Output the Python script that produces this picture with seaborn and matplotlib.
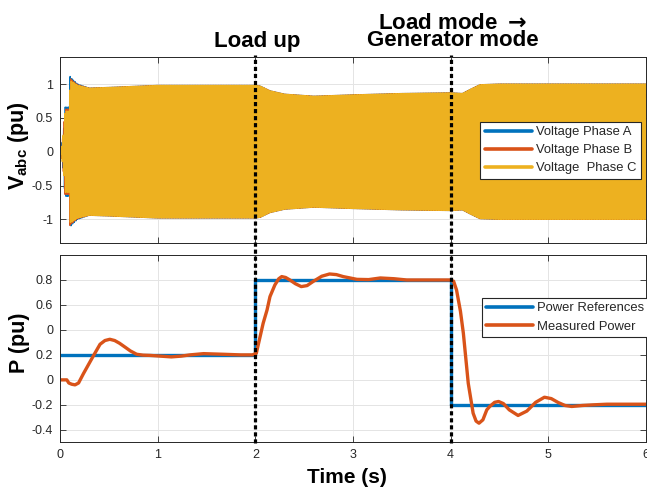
import numpy as np
import pandas as pd
import seaborn as sns
import matplotlib
matplotlib.use("Agg")
import matplotlib.pyplot as plt
import matplotlib.transforms as mtransforms
from matplotlib.lines import Line2D

# ---------------- data ----------------
# envelope of the three phase voltages (time in s, amplitude in pu)
env_t = [0.0, 0.02, 0.04, 0.05, 0.099, 0.10, 0.12, 0.18, 0.30, 0.50, 1.00,
         2.00, 2.05, 2.15, 2.30, 2.60, 3.00, 3.50, 4.00, 4.12, 4.20, 4.30, 4.50, 6.00]
amp_a = [0.0, 0.12, 0.38, 0.66, 0.66, 1.12, 1.08, 1.00, 0.94, 0.95, 0.98,
         0.98, 0.97, 0.90, 0.85, 0.82, 0.84, 0.86, 0.87, 0.86, 0.92, 0.99, 1.00, 1.00]
amp_b = [0.0, 0.11, 0.36, 0.63, 0.63, 1.09, 1.06, 0.99, 0.94, 0.95, 0.98,
         0.98, 0.97, 0.90, 0.85, 0.82, 0.84, 0.86, 0.87, 0.86, 0.92, 0.99, 1.00, 1.00]
amp_c = [0.0, 0.10, 0.34, 0.60, 0.60, 1.05, 1.04, 0.98, 0.94, 0.95, 0.98,
         0.98, 0.97, 0.90, 0.85, 0.82, 0.84, 0.86, 0.87, 0.86, 0.92, 0.99, 1.00, 1.00]
grid_freq = 60.0

# active power reference (step changes) and measured response
ref_t = [0.0, 2.0, 4.0, 6.0]
ref_p = [0.2, 0.8, -0.2, -0.2]

meas_t = [0.00, 0.07, 0.09, 0.12, 0.154, 0.19, 0.24, 0.29, 0.34, 0.41, 0.46, 0.51,
          0.56, 0.61, 0.67, 0.72, 0.785, 0.85, 0.92, 1.03, 1.14, 1.24, 1.33, 1.47,
          1.67, 1.85, 1.97, 2.01, 2.05, 2.08, 2.12, 2.15, 2.20, 2.24, 2.27, 2.31,
          2.354, 2.41, 2.47, 2.53, 2.59, 2.68, 2.76, 2.83, 2.90, 3.04, 3.16, 3.28,
          3.42, 3.55, 3.75, 3.99, 4.03, 4.06, 4.10, 4.13, 4.18, 4.23, 4.26, 4.29,
          4.33, 4.37, 4.40, 4.45, 4.49, 4.54, 4.60, 4.69, 4.78, 4.87, 4.96, 5.03,
          5.10, 5.17, 5.24, 5.35, 5.46, 5.60, 5.73, 5.87, 6.00]
meas_p = [0.00, 0.00, -0.025, -0.035, -0.04, -0.025, 0.05, 0.12, 0.19, 0.285, 0.315, 0.325,
          0.315, 0.293, 0.26, 0.232, 0.205, 0.198, 0.196, 0.19, 0.184, 0.19, 0.20, 0.21,
          0.205, 0.20, 0.20, 0.213, 0.35, 0.453, 0.56, 0.667, 0.76, 0.81, 0.827, 0.82,
          0.80, 0.77, 0.747, 0.755, 0.787, 0.83, 0.848, 0.843, 0.827, 0.805, 0.803, 0.816,
          0.81, 0.80, 0.80, 0.80, 0.79, 0.72, 0.55, 0.373, -0.027, -0.267, -0.33, -0.347,
          -0.32, -0.24, -0.213, -0.18, -0.173, -0.19, -0.24, -0.285, -0.25, -0.18, -0.139, -0.15,
          -0.181, -0.205, -0.213, -0.205, -0.20, -0.195, -0.195, -0.195, -0.195]

x_ticks = [0, 1, 2, 3, 4, 5, 6]
v_ticks = [-1, -0.5, 0, 0.5, 1]
v_tick_labels = ["-1", "-0.5", "0", "0.5", "1"]
p_ticks = [-0.4, -0.2, 0.0, 0.2, 0.4, 0.6, 0.8]
p_tick_labels = ["-0.4", "-0.2", "0", "0.2", "0", "0.6", "0.8"]

event_times = [2.0, 4.0]
event_labels = ["Load up", "Load mode $\\mathbf{\\rightarrow}$\nGenerator mode"]

# ---------------- style ----------------
sns.set_theme(style="ticks")
plt.rcParams["font.family"] = ["Liberation Sans", "DejaVu Sans"]
plt.rcParams["mathtext.fontset"] = "custom"
plt.rcParams["mathtext.rm"] = "Liberation Sans"
plt.rcParams["mathtext.bf"] = "Liberation Sans:bold"

C_BLUE = "#0072BD"
C_ORANGE = "#D95319"
C_YELLOW = "#EDB120"
C_AXIS = "#262626"

W, H = 647, 491
fig = plt.figure(figsize=(W / 100, H / 100), dpi=100)
ax1 = fig.add_axes([60 / W, 1 - 243 / H, 586 / W, 186 / H])
ax2 = fig.add_axes([60 / W, 1 - 442.3 / H, 586 / W, 187.3 / H])

# ---------------- three phase voltages ----------------
t = np.linspace(0, 6, int(6 * grid_freq * 24) + 1)
phases = [("Voltage Phase A", amp_a, 0.0, C_BLUE),
          ("Voltage Phase B", amp_b, -2 * np.pi / 3, C_ORANGE),
          ("Voltage  Phase C", amp_c, 2 * np.pi / 3, C_YELLOW)]
for name, amp, shift, col in phases:
    v = np.interp(t, env_t, amp) * np.sin(2 * np.pi * grid_freq * t + shift)
    df = pd.DataFrame({"t": t, "v": v})
    sns.lineplot(data=df, x="t", y="v", ax=ax1, color=col, lw=1.0,
                 label=name, estimator=None, sort=False)

# ---------------- power ----------------
sns.lineplot(x=ref_t, y=ref_p, ax=ax2, color=C_BLUE, lw=2.4,
             drawstyle="steps-post", label="Power References", estimator=None)
sns.lineplot(x=meas_t, y=meas_p, ax=ax2, color=C_ORANGE, lw=2.4,
             label="Measured Power", estimator=None)

for ax in (ax1, ax2):
    ax.set_xlim(0, 6)
    ax.set_xticks(x_ticks)
    ax.grid(True, color="#e4e4e4", lw=0.7)
    ax.set_axisbelow(True)
    ax.tick_params(direction="in", top=True, right=True, length=4, width=0.6,
                   color=C_AXIS, labelcolor=C_AXIS, labelsize=9, pad=5)
    for s in ax.spines.values():
        s.set_color(C_AXIS)
        s.set_linewidth(0.7)
    ax.set_xlabel("")

ax1.set_ylim(-1.35, 1.4)
ax1.set_yticks(v_ticks)
ax1.set_yticklabels(v_tick_labels)
ax1.set_xticklabels([])
ax1.set_ylabel(r"$\mathbf{V_{abc}}$ (pu)", fontsize=15.5, fontweight="bold", color="black")
ax1.yaxis.set_label_coords(-0.05, 0.525)

ax2.set_ylim(-0.5, 1.0)
ax2.set_yticks(p_ticks)
ax2.set_yticklabels(p_tick_labels)
ax2.set_xticklabels([str(v) for v in x_ticks])
ax2.set_ylabel("P (pu)", fontsize=15.5, fontweight="bold", color="black")
ax2.yaxis.set_label_coords(-0.052, 0.53)
ax2.set_xlabel("Time (s)", fontsize=15, fontweight="bold", color="black")
ax2.xaxis.set_label_coords(0.49, -0.135)

# legends
def style_legend(leg):
    fr = leg.get_frame()
    fr.set_edgecolor("#262626")
    fr.set_linewidth(0.8)
    fr.set_alpha(1)
    for ln in leg.get_lines():
        ln.set_linewidth(2.6)

leg1 = ax1.legend(loc="upper left", bbox_to_anchor=(0.717, 0.652), fontsize=9.4,
                  frameon=True, fancybox=False, borderaxespad=0, borderpad=0.35,
                  handlelength=3.6, handletextpad=0.3, labelspacing=0.45)
style_legend(leg1)
leg2 = ax2.legend(loc="upper left", bbox_to_anchor=(0.7196, 0.772), fontsize=9.4,
                  frameon=True, fancybox=False, borderaxespad=0, borderpad=0.35,
                  handlelength=3.6, handletextpad=0.3, labelspacing=0.48)
style_legend(leg2)

# event markers spanning both panels
trans = mtransforms.blended_transform_factory(ax2.transData, fig.transFigure)
for te in event_times:
    fig.add_artist(Line2D([te, te], [1 - 443 / H, 1 - 55 / H], transform=trans,
                          color="black", lw=2.3, linestyle=(0, (1.3, 0.9))))

ttrans = mtransforms.blended_transform_factory(ax1.transData, fig.transFigure)
for te, lab in zip(event_times, event_labels):
    ax1.text(te + 0.02, 1 - 51.5 / H, lab, transform=ttrans, ha="center", va="bottom",
             ma="center", fontsize=16, fontweight="bold", color="black",
             linespacing=0.8, math_fontfamily="dejavusans")

fig.savefig("out.png", dpi=100)
